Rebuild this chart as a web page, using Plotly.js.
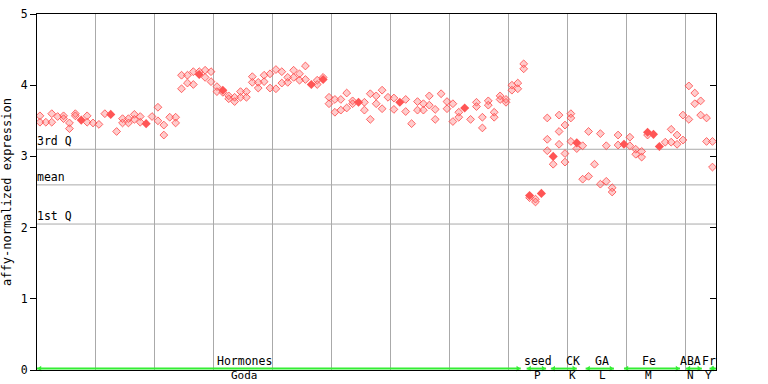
<!DOCTYPE html>
<html><head><meta charset="utf-8">
<script src="https://cdn.plot.ly/plotly-3.0.1.min.js"></script>
<style>body{margin:0;background:#fff}#c{width:768px;height:384px}</style>
</head><body><div id="c"></div>
<script>
// sample index and expression values (open markers)
const openX = [0,0,1,2,2,3,4,4,5,5,6,6,8,8,9,10,11,13,14,14,15,15,16,16,17,17,19,20,20,21,21,22,23,23,
  24,24,25,25,26,26,27,28,28,29,29,30,30,31,32,32,33,33,34,34,35,35,36,36,37,37,38,38,39,39,40,40,41,41,42,42,43,43,44,44,45,45,47,47,48,
  49,49,50,50,51,51,52,52,53,53,55,55,56,56,57,57,58,58,59,60,60,62,62,63,64,64,65,65,66,66,67,67,68,69,69,70,70,71,71,73,74,74,75,75,76,76,77,77,78,78,79,79,
  80,80,81,81,82,82,83,84,84,86,86,86,87,88,88,88,89,89,89,90,90,90,91,92,92,93,93,94,95,95,96,96,97,97,98,98,100,100,101,101,102,102,103,
  106,107,107,108,108,109,109,110,110,111,111,112,112,113,113,114,114];
const openY = [3.57,3.48,3.48,3.60,3.48,3.56,3.57,3.53,3.47,3.39,3.60,3.57,3.57,3.48,3.47,3.45,3.60,3.35,3.53,3.47,3.53,3.47,3.59,3.52,3.56,3.48,3.56,3.69,3.50,3.44,3.30,3.55,3.55,3.47,
  4.14,3.95,4.14,4.03,4.19,4.01,4.19,4.21,4.11,4.19,4.05,3.98,3.91,3.90,3.85,3.81,3.83,3.77,3.91,3.83,3.91,3.83,4.12,4.04,4.04,3.96,4.14,4.05,4.16,3.96,4.22,3.95,4.19,4.03,4.11,4.04,4.21,4.11,4.16,4.07,4.27,4.08,4.07,4.01,4.11,
  3.83,3.74,3.80,3.62,3.80,3.65,3.89,3.68,3.78,3.74,3.76,3.65,3.88,3.52,3.85,3.74,3.93,3.67,3.83,3.82,3.66,3.80,3.63,3.46,3.77,3.65,3.74,3.65,3.85,3.72,3.66,3.52,3.88,3.77,3.67,3.74,3.49,3.62,3.55,3.52,3.76,3.70,3.55,3.40,3.78,3.72,3.62,3.55,3.85,3.80,3.80,3.76,
  4.00,3.93,4.03,3.95,4.30,4.23,2.42,2.40,2.36,3.54,3.24,3.08,2.89,3.58,3.35,3.17,3.44,3.04,2.92,3.60,3.54,3.21,3.11,3.15,2.68,3.35,2.72,2.89,3.32,2.61,3.15,2.65,2.56,2.50,3.30,3.16,3.27,3.15,3.10,3.03,3.07,2.99,3.30,
  3.20,3.38,3.20,3.30,3.17,3.58,3.23,3.99,3.52,3.89,3.74,3.78,3.58,3.54,3.21,3.21,2.85];
// filled (mean) markers
const fillX = [7,12,18,27,31,46,48,54,61,72,83,85,87,91,99,103,104,105];
const fillY = [3.51,3.59,3.46,4.15,3.93,4.01,4.08,3.76,3.76,3.68,2.45,2.48,3.00,3.19,3.17,3.34,3.31,3.14];
// reference lines
const refNames = ["3rd Q","mean","1st Q"];
const refVals = [3.10,2.60,2.05];
// groups
const groupTop = ["Hormones","seed","CK","GA","Fe","ABA","Fr"];
const groupBottom = ["Goda","P","K","L","M","N","Y"];
const groupStart = [-0.5,82.5,86.6,92.5,99,109.5,113.5];
const groupEnd = [81.5,85.8,91,97.3,108.5,112.2,114.6];
const groupLabelX = [34.6,84.4,90.3,95.3,103.2,110.3,113.4];

const FONT = 'DejaVu Sans Mono';
const red = '#ff5555';
const traces = [
 {x:openX,y:openY,type:'scatter',mode:'markers',hoverinfo:'skip',
  marker:{symbol:'diamond',size:6,color:'rgba(255,110,110,0.35)',line:{color:'rgba(255,70,70,0.9)',width:0.9}}},
 {x:fillX,y:fillY,type:'scatter',mode:'markers',hoverinfo:'skip',
  marker:{symbol:'diamond',size:7,color:red,line:{width:0}}},
 {x:[0],y:[0],yaxis:'y2',type:'scatter',mode:'markers',marker:{opacity:0},hoverinfo:'skip'}
];
const shapes = [], annotations = [];
refVals.forEach((v,i)=>{
  shapes.push({type:'line',xref:'paper',x0:0,x1:1,yref:'y',y0:v,y1:v,line:{color:'#aaaaaa',width:1},layer:'below'});
  annotations.push({xref:'paper',x:0,xanchor:'left',xshift:-2,yref:'y',y:v,yanchor:'bottom',yshift:-1,text:refNames[i],showarrow:false,
    font:{family:FONT,size:11.5,color:'#000000'}});
});
const arrowX=[],arrowY=[],arrowS=[];
groupTop.forEach((g,i)=>{
  shapes.push({type:'line',xref:'x',x0:groupStart[i],x1:groupEnd[i],yref:'y',y0:0.02,y1:0.02,line:{color:'#33ee33',width:2}});
  arrowX.push(groupStart[i]+0.5, groupEnd[i]-0.5); arrowY.push(0.02,0.02); arrowS.push('triangle-left','triangle-right');
  annotations.push({xref:'x',x:groupLabelX[i],yref:'paper',y:0,yanchor:'bottom',yshift:0,text:g,showarrow:false,
    font:{family:FONT,size:11.5,color:'#000000'}});
  annotations.push({xref:'x',x:groupLabelX[i],yref:'paper',y:0,yanchor:'top',yshift:2,borderpad:0,text:groupBottom[i],showarrow:false,
    font:{family:FONT,size:11,color:'#000000'}});
});
traces.push({x:arrowX,y:arrowY,type:'scatter',mode:'markers',hoverinfo:'skip',cliponaxis:false,
  marker:{symbol:arrowS,size:5,color:'#33ee33'}});

const layout = {
  width:768,height:384,paper_bgcolor:'#fff',plot_bgcolor:'#fff',showlegend:false,
  margin:{l:37,r:52,t:14,b:14},
  font:{family:FONT,size:11,color:'#000'},
  xaxis:{range:[-0.5,114.6],tick0:-0.5,dtick:10,showgrid:true,gridcolor:'#aaaaaa',gridwidth:1,
    showticklabels:false,ticks:'',showline:true,linecolor:'#000',linewidth:1,mirror:true,zeroline:false,fixedrange:true},
  yaxis:{range:[0,5],dtick:1,showgrid:false,zeroline:false,showline:true,linecolor:'#000',linewidth:1,
    ticks:'outside',ticklen:6,tickcolor:'#000',tickfont:{family:FONT,size:11.5},
    title:{text:'affy-normalized expression',font:{family:FONT,size:12},standoff:6}},
  yaxis2:{range:[0,5],dtick:1,overlaying:'y',side:'right',showgrid:false,zeroline:false,showline:true,linecolor:'#000',
    ticks:'inside',ticklen:6,tickcolor:'#000',showticklabels:false},
  shapes:shapes,annotations:annotations
};
Plotly.newPlot('c',traces,layout,{staticPlot:true});
</script></body></html>
